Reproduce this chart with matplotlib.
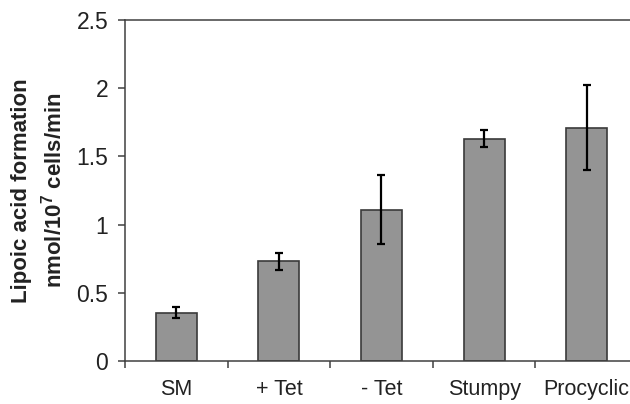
import numpy as np
import matplotlib
matplotlib.use("Agg")
import matplotlib.pyplot as plt

plt.rcParams['font.family'] = ['Liberation Sans', 'DejaVu Sans']
plt.rcParams['mathtext.fontset'] = 'custom'
plt.rcParams['mathtext.rm'] = 'Liberation Sans'
plt.rcParams['mathtext.bf'] = 'Liberation Sans:bold'

# values
categories = ['SM', '+ Tet', '- Tet', 'Stumpy', 'Procyclic']
rates = [0.355, 0.73, 1.11, 1.63, 1.71]
errors = [0.042, 0.06, 0.255, 0.06, 0.31]
y_ticks = [0, 0.5, 1, 1.5, 2, 2.5]
y_tick_labels = ['0', '0.5', '1', '1.5', '2', '2.5']

fig = plt.figure(figsize=(6.3, 4.04), dpi=100)
# axes runs past the right edge, as in the cropped original
ax = fig.add_axes([0.1984, 0.1064, 0.8143, 0.8441])

x = np.arange(len(categories))
ax.bar(x, rates, width=0.4, color='#949494', edgecolor='#3a3a3a', linewidth=1.2, zorder=2)
ax.errorbar(x, rates, yerr=errors, fmt='none', ecolor='black', elinewidth=1.6,
            capsize=3, capthick=1.6, zorder=3)

ax.set_xlim(-0.5, len(categories) - 0.5)
ax.set_ylim(0, 2.5)

ax.set_yticks(y_ticks)
ax.set_yticklabels(y_tick_labels)
ax.set_xticks(x)
ax.set_xticklabels(categories)
ax.set_xticks(np.arange(len(categories) + 1) - 0.5, minor=True)

ax.tick_params(axis='y', length=5, width=1.1, color='#404040', labelsize=16.5,
               pad=7, labelcolor='#222222')
ax.tick_params(axis='x', which='major', length=0, labelsize=15.5, pad=13,
               labelcolor='#222222')
ax.tick_params(axis='x', which='minor', length=5, width=1.1, color='#404040')

for side in ['left', 'bottom', 'top']:
    ax.spines[side].set_color('#404040')
    ax.spines[side].set_linewidth(1.1)
ax.spines['right'].set_visible(False)

ax.set_ylabel('Lipoic acid formation\nnmol/10$^{\\mathbf{7}}$ cells/min',
              fontsize=16, fontweight='bold', labelpad=7, linespacing=1.4,
              color='#222222')

fig.savefig('out.png', dpi=100)
